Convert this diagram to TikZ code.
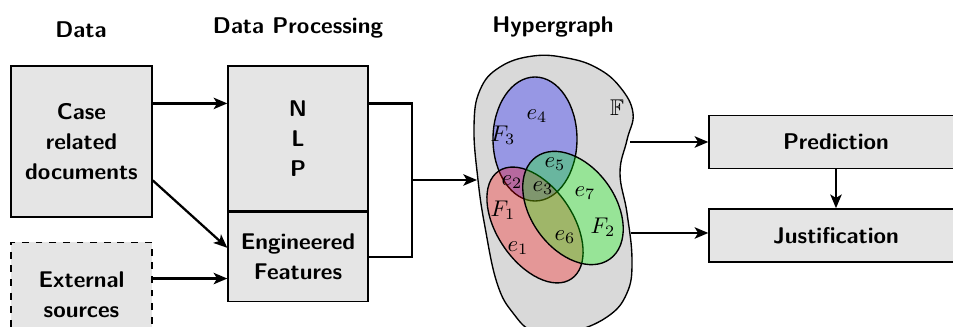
\documentclass[tikz,border=0pt]{standalone}
\usepackage{amssymb}
\usetikzlibrary{positioning, calc, arrows.meta}
\newcommand{\px}{0.44pt}
\tikzset{
	box/.style={draw, rectangle, semithick, fill=black!10, inner sep=2pt, align=center,
		font=\sffamily\bfseries\linespread{1.1}\selectfont},
	srcbox/.style={box, dashed},
	head/.style={font=\sffamily\bfseries},
	% hyperedges
	hedge/.style={draw, semithick, fill opacity=0.3},
}

\begin{document}
\begin{tikzpicture}[x=0.44pt, y=-0.44pt]
	\useasboundingbox (0,0) rectangle (953,327);
	
	\node (hdata) [head] at (81,30) {Data};
	\node (hproc) [head] at (298,28) {Data Processing};
	\node (hhyp) [head] at (553,27) {Hypergraph};
	
	\node (docs) [box, minimum width=141*\px, minimum height=151*\px] at (81.5,141.5) {Case\\related\\documents};
	\node (ext) [srcbox, minimum width=141*\px, minimum height=104*\px, below=24*\px of docs] {External\\sources};
	
	\node (nlp) [box, minimum width=140*\px, minimum height=145*\px] at (298,138.5) {N\\L\\P};
	\node (feat) [box, minimum width=140*\px, minimum height=89*\px, below=0pt of nlp] {Engineered\\Features};
	
	\node (pred) [box, minimum width=254*\px, minimum height=53*\px] at (836,142) {Prediction};
	\node (just) [box, minimum width=254*\px, minimum height=53*\px, below=39*\px of pred] {Justification};
	
	% hypergraph
	\draw[semithick, fill=black!15] plot[smooth cycle, tension=0.7] coordinates {
		(474,127) (480,90) (500,67) (533,56) (567,58) (597,68) (620,87) (633,113)
		(627,140) (620,173) (627,213) (632,260) (627,293) (607,317) (570,332)
		(535,332) (513,313) (497,283) (485,227) (478,180)};
	\node (ff) at (617,108) {$\mathbb{F}$};
	
	\draw[hedge, fill=blue] (535,139) ellipse [x radius=42, y radius=62];
	\draw[hedge, fill=red] (535,225) ellipse [x radius=65, y radius=38, rotate=-56];
	\draw[hedge, fill=green] (573,208) ellipse [x radius=63, y radius=42, rotate=-54];
	
	\node (e1) at (518,248) {$e_1$};
	\node (e2) at (512,182) {$e_2$};
	\node (e3) at (543,188) {$e_3$};
	\node (e4) at (537,116) {$e_4$};
	\node (e5) at (555,164) {$e_5$};
	\node (e6) at (565,237) {$e_6$};
	\node (e7) at (585,193) {$e_7$};
	\node (f1) at (503,210) {$F_1$};
	\node (f2) at (603,227) {$F_2$};
	\node (f3) at (503,135) {$F_3$};
	
	\coordinate (d1) at ($(docs.north east)!0.25!(docs.south east)$);
	\coordinate (d2) at ($(docs.north east)!0.755!(docs.south east)$);
	\coordinate (f1in) at ($(feat.north west)!0.4!(feat.south west)$);
	\coordinate (f2in) at ($(feat.north west)!0.74!(feat.south west)$);
	\coordinate (join) at (412,180);
	\coordinate (hin) at (477,180);
	\coordinate (hout1) at (630,142);
	\coordinate (hout2) at (631,233);
	
	\begin{scope}[line width=1pt, black, ->, >={Stealth[length=6pt, width=5pt, inset=1.5pt]}]
		\draw (d1) -- (d1 -| nlp.west);
		\draw (d2) -- (f1in);
		\draw (ext.east |- f2in) -- (f2in);
		
		\draw[-] (nlp.east |- d1) -| (join);
		\draw[-] (feat.east) -| (join);
		\draw (join) -- (hin);
		
		\draw (hout1) -- (hout1 -| pred.west);
		\draw (hout2) -- (hout2 -| just.west);
		\draw (pred.south) -- (just.north);
	\end{scope}
	
\end{tikzpicture}
\end{document}
